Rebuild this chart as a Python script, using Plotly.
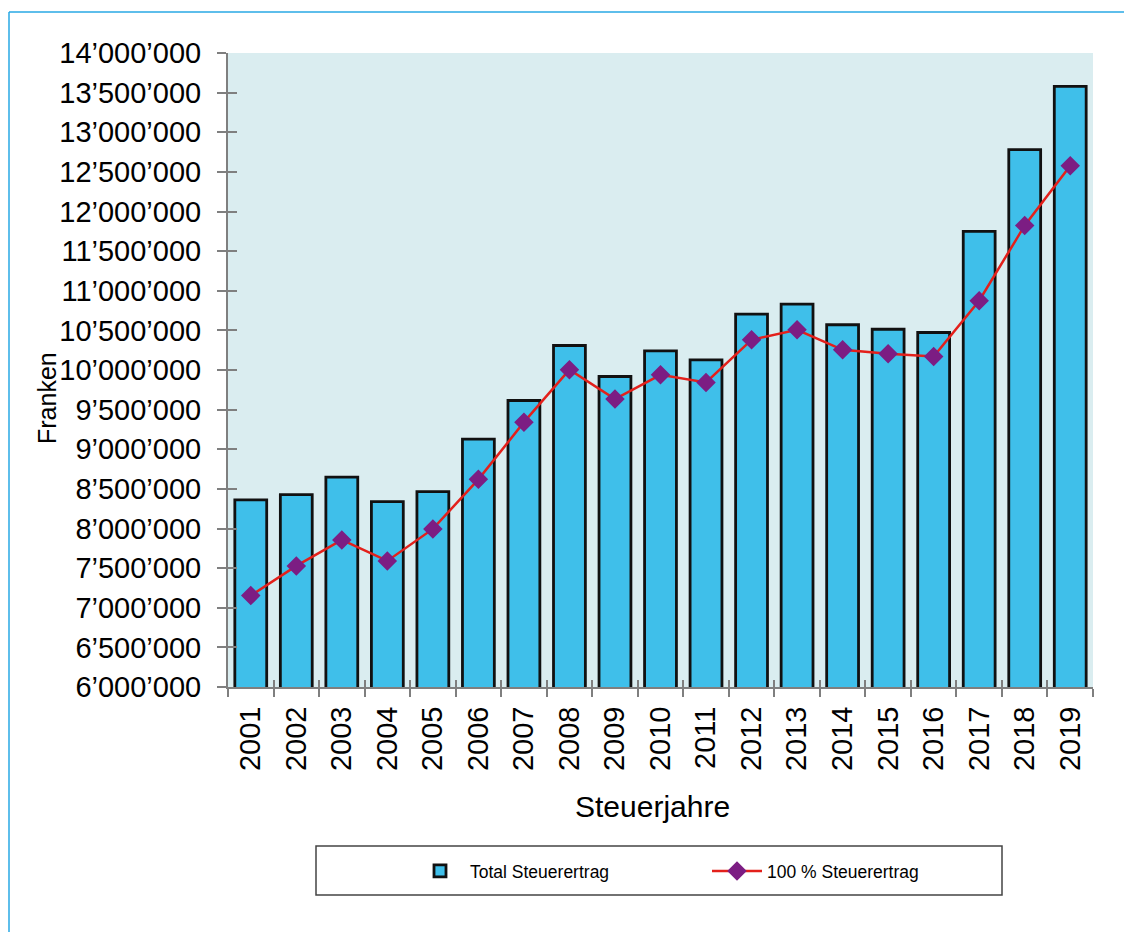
import plotly.graph_objects as go

years = ["2001", "2002", "2003", "2004", "2005", "2006", "2007", "2008", "2009", "2010",
         "2011", "2012", "2013", "2014", "2015", "2016", "2017", "2018", "2019"]
total_steuerertrag = [8361000, 8428000, 8648000, 8340000, 8466000, 9127000, 9615000, 10309000,
                      9918000, 10242000, 10129000, 10706000, 10832000, 10571000, 10514000,
                      10473000, 11749000, 12780000, 13580000]
steuerertrag_100 = [7153000, 7528000, 7856000, 7591000, 7995000, 8620000, 9342000, 10003000,
                    9633000, 9939000, 9842000, 10381000, 10507000, 10255000, 10205000,
                    10170000, 10874000, 11824000, 12578000]
y_tickvals = [6000000, 6500000, 7000000, 7500000, 8000000, 8500000, 9000000, 9500000,
              10000000, 10500000, 11000000, 11500000, 12000000, 12500000, 13000000,
              13500000, 14000000]
y_ticktext = ["6’000’000", "6’500’000", "7’000’000", "7’500’000", "8’000’000", "8’500’000",
              "9’000’000", "9’500’000", "10’000’000", "10’500’000", "11’000’000", "11’500’000",
              "12’000’000", "12’500’000", "13’000’000", "13’500’000", "14’000’000"]

FONT = "Liberation Sans, Arial, sans-serif"
AXIS_GRAY = "#7f7f7f"

fig = go.Figure()
fig.add_trace(go.Bar(
    x=years, y=total_steuerertrag, name="Total Steuerertrag",
    marker=dict(color="#3fbfea", line=dict(color="#111111", width=2.8)),
    width=0.7,
))
fig.add_trace(go.Scatter(
    x=years, y=steuerertrag_100, name="100 % Steuerertrag", mode="lines+markers",
    line=dict(color="#e3201b", width=2.5),
    marker=dict(symbol="diamond", size=15, color="#7c1d83"),
))
# overlay axis only for inward tick marks (crossing ticks)
fig.add_trace(go.Scatter(x=[None], y=[None], xaxis="x2", yaxis="y2", showlegend=False, hoverinfo="skip"))

OFF = 8  # page body margin
W, H = 1124, 924
L, T = 220, 45
pw, ph = 865, 634
R, B = W - L - pw, H - T - ph

def px(x):  # screen x -> paper
    return (x - OFF - L) / pw

def py(y):  # screen y -> paper
    return (T + ph - (y - OFF)) / ph

fig.update_layout(
    width=W, height=H,
    margin=dict(l=L, r=R, t=T, b=B),
    paper_bgcolor="white",
    plot_bgcolor="#daedf0",
    font=dict(family=FONT, color="black"),
    showlegend=True,
    legend=dict(
        orientation="h", x=px(410), xanchor="left", y=py(871), yanchor="middle",
        font=dict(size=17.5, family=FONT), entrywidth=232, entrywidthmode="pixels",
        bgcolor="rgba(0,0,0,0)", itemwidth=50,
    ),
    xaxis=dict(
        type="category", showline=True, linecolor=AXIS_GRAY, linewidth=2,
        ticks="outside", ticklen=8, tickcolor=AXIS_GRAY, tickwidth=2, tickson="boundaries",
        tickangle=-90, tickfont=dict(size=29, family=FONT), ticklabelstandoff=6,
        showgrid=False, zeroline=False,
        range=[-0.5, 18.5],
    ),
    yaxis=dict(
        range=[6000000, 14000000], tickvals=y_tickvals, ticktext=y_ticktext,
        showline=True, linecolor=AXIS_GRAY, linewidth=2,
        ticks="outside", ticklen=9, tickcolor=AXIS_GRAY, tickwidth=2,
        tickfont=dict(size=29, family=FONT), ticklabelstandoff=10,
        showgrid=False, zeroline=False,
    ),
    xaxis2=dict(overlaying="x", range=[-0.5, 18.5], tickvals=[i - 0.5 for i in range(20)],
                ticks="inside", ticklen=7, tickcolor=AXIS_GRAY, tickwidth=2,
                showticklabels=False, showgrid=False, zeroline=False, showline=False),
    yaxis2=dict(overlaying="y", range=[6000000, 14000000], tickvals=y_tickvals,
                ticks="inside", ticklen=9, tickcolor=AXIS_GRAY, tickwidth=2,
                showticklabels=False, showgrid=False, zeroline=False, showline=False),
    shapes=[
        # blue outer frame (top and left)
        dict(type="line", xref="paper", yref="paper", x0=px(9), x1=px(1140), y0=py(12), y1=py(12),
             line=dict(color="#29a9e4", width=1.5)),
        dict(type="line", xref="paper", yref="paper", x0=px(9), x1=px(9), y0=py(12), y1=py(940),
             line=dict(color="#29a9e4", width=1.5)),
        # legend box
        dict(type="rect", xref="paper", yref="paper", x0=px(316), x1=px(1002), y0=py(895), y1=py(846),
             line=dict(color="#444444", width=1.5), fillcolor="rgba(0,0,0,0)"),
    ],
    annotations=[
        dict(text="Franken", xref="paper", yref="paper", x=px(47), y=py(398),
             xanchor="center", yanchor="middle", textangle=-90, showarrow=False,
             font=dict(size=25, family=FONT)),
        dict(text="Steuerjahre", xref="paper", yref="paper", x=px(652), y=py(806),
             xanchor="center", yanchor="middle", showarrow=False,
             font=dict(size=30, family=FONT)),
    ],
)

fig.write_html("out.html")
